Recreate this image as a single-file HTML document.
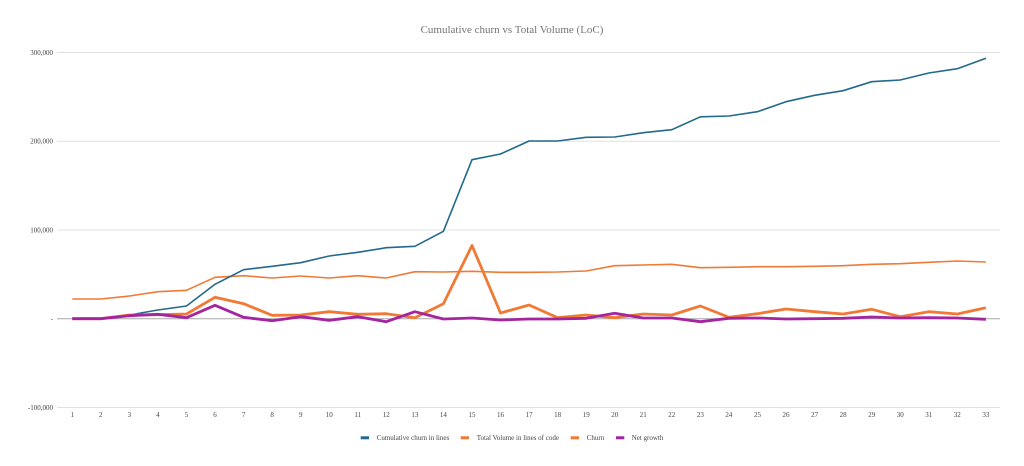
<!DOCTYPE html>
<html>
<head>
<meta charset="utf-8">
<style>
html,body{margin:0;padding:0;background:#fff;}
svg{display:block;}
text{font-family:"Liberation Serif",serif;}
</style>
</head>
<body>
<svg width="1024" height="466" viewBox="0 0 1024 466" xmlns="http://www.w3.org/2000/svg">
<rect width="1024" height="466" fill="#ffffff"/>
<text x="512" y="33" text-anchor="middle" font-size="11" fill="#757575">Cumulative churn vs Total Volume (LoC)</text>

<g stroke="#e0e0e0" stroke-width="1">
<line x1="57" y1="52.5" x2="1000" y2="52.5"/>
<line x1="57" y1="141.2" x2="1000" y2="141.2"/>
<line x1="57" y1="230" x2="1000" y2="230"/>
<line x1="57" y1="407.5" x2="1000" y2="407.5"/>
</g>
<line x1="57" y1="318.7" x2="1000" y2="318.7" stroke="#a8a8a8" stroke-width="1"/>

<g font-size="7" fill="#444" text-anchor="end">
<text x="53" y="55">300,000</text>
<text x="53" y="143.7">200,000</text>
<text x="53" y="232.5">100,000</text>
<text x="53" y="321">-</text>
<text x="53" y="410">-100,000</text>
</g>

<g font-size="7" fill="#444" text-anchor="middle">
<text x="72.3" y="417">1</text><text x="100.8" y="417">2</text><text x="129.4" y="417">3</text><text x="157.9" y="417">4</text><text x="186.5" y="417">5</text><text x="215.0" y="417">6</text><text x="243.6" y="417">7</text><text x="272.1" y="417">8</text><text x="300.7" y="417">9</text><text x="329.2" y="417">10</text><text x="357.8" y="417">11</text><text x="386.3" y="417">12</text><text x="414.9" y="417">13</text><text x="443.4" y="417">14</text><text x="472.0" y="417">15</text><text x="500.5" y="417">16</text><text x="529.1" y="417">17</text><text x="557.6" y="417">18</text><text x="586.2" y="417">19</text><text x="614.7" y="417">20</text><text x="643.3" y="417">21</text><text x="671.8" y="417">22</text><text x="700.4" y="417">23</text><text x="728.9" y="417">24</text><text x="757.5" y="417">25</text><text x="786.0" y="417">26</text><text x="814.6" y="417">27</text><text x="843.1" y="417">28</text><text x="871.7" y="417">29</text><text x="900.2" y="417">30</text><text x="928.8" y="417">31</text><text x="957.3" y="417">32</text><text x="985.9" y="417">33</text>
</g>

<!-- Total Volume (thin orange) -->
<polyline fill="none" stroke="#f07a35" stroke-width="1.6" stroke-linejoin="round" points="72.3,299 100.8,299 129.4,296 157.9,291.7 186.5,290.3 215.0,277.3 243.6,275.7 272.1,278 300.7,276 329.2,278 357.8,275.7 386.3,278 414.9,271.7 443.4,272 472.0,271.3 500.5,272.3 529.1,272.3 557.6,272 586.2,271 614.7,265.7 643.3,265 671.8,264.3 700.4,267.7 728.9,267.3 757.5,266.7 786.0,266.7 814.6,266.3 843.1,265.7 871.7,264.3 900.2,263.7 928.8,262.3 957.3,261 985.9,262"/>

<!-- Cumulative churn (blue) -->
<polyline fill="none" stroke="#23698b" stroke-width="1.6" stroke-linejoin="round" points="72.3,318.7 100.8,318.7 129.4,315 157.9,310 186.5,306 215.0,284.3 243.6,269.7 272.1,266.3 300.7,262.7 329.2,256 357.8,252.3 386.3,247.7 414.9,246.3 443.4,231.3 472.0,159.7 500.5,154 529.1,141 557.6,141 586.2,137.3 614.7,137 643.3,132.7 671.8,129.7 700.4,116.8 728.9,116 757.5,111.7 786.0,101.7 814.6,95.3 843.1,90.7 871.7,81.7 900.2,80 928.8,73 957.3,68.7 985.9,58.3"/>

<!-- Churn (thick orange) -->
<polyline fill="none" stroke="#f07a35" stroke-width="2.8" stroke-linejoin="round" points="72.3,318.7 100.8,318.7 129.4,315 157.9,314.7 186.5,314 215.0,297.3 243.6,303.7 272.1,315.3 300.7,315 329.2,311.7 357.8,314.3 386.3,313.7 414.9,317.7 443.4,303.7 472.0,245.5 500.5,313 529.1,305 557.6,317.7 586.2,315 614.7,317.7 643.3,314 671.8,315 700.4,306 728.9,317.3 757.5,313.7 786.0,309 814.6,311.7 843.1,314 871.7,309.3 900.2,316.7 928.8,311.7 957.3,314 985.9,307.7"/>

<!-- Net growth (purple) -->
<polyline fill="none" stroke="#a4259f" stroke-width="2.8" stroke-linejoin="round" points="72.3,318.7 100.8,318.7 129.4,315.7 157.9,314.3 186.5,317.7 215.0,305.3 243.6,317.3 272.1,320.7 300.7,316.7 329.2,320.3 357.8,316.7 386.3,321.7 414.9,311.7 443.4,319 472.0,318 500.5,320 529.1,319 557.6,319 586.2,318.3 614.7,313.3 643.3,318 671.8,318 700.4,321.7 728.9,318.3 757.5,318 786.0,319 814.6,318.7 843.1,318.3 871.7,317 900.2,318 928.8,317.7 957.3,318 985.9,319.3"/>

<!-- Legend -->
<g font-size="7" fill="#444">
<rect x="360.7" y="436.3" width="8.3" height="3" fill="#23698b"/>
<text x="376.7" y="440">Cumulative churn in lines</text>
<rect x="460.7" y="436.3" width="8.3" height="3" fill="#f07a35"/>
<text x="476.7" y="440">Total Volume in lines of code</text>
<rect x="570.7" y="436.3" width="8.3" height="3" fill="#f07a35"/>
<text x="586.7" y="440">Churn</text>
<rect x="616" y="436.3" width="8.3" height="3" fill="#a4259f"/>
<text x="631.7" y="440">Net growth</text>
</g>
</svg>
</body>
</html>
